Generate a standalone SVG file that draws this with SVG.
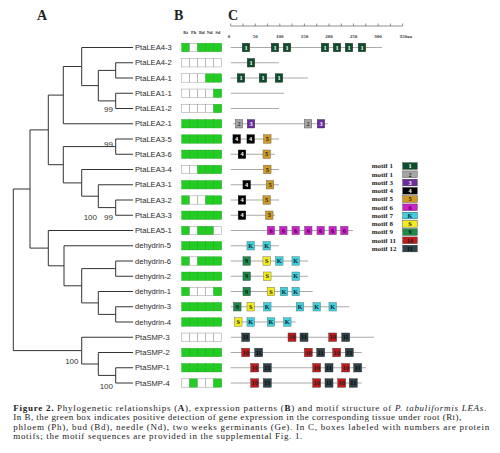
<svg xmlns="http://www.w3.org/2000/svg" xmlns:xlink="http://www.w3.org/1999/xlink" width="500" height="453" viewBox="0 0 500 453">
<style>
.lbl{font-family:"Liberation Sans",Arial,sans-serif;font-size:7.6px;fill:#2a2a2a}
.bs{font-family:"Liberation Sans",Arial,sans-serif;font-size:8px;fill:#333;text-anchor:end}
.pan{font-family:"Liberation Serif","Times New Roman",serif;font-size:14px;font-weight:bold;fill:#222}
.hd{font-family:"Liberation Serif","Times New Roman",serif;font-size:4.6px;font-weight:bold;fill:#333;text-anchor:middle}
.rl{font-family:"Liberation Serif","Times New Roman",serif;font-size:5px;font-weight:bold;fill:#333;text-anchor:middle}
.bt{font-family:"Liberation Serif","Times New Roman",serif;font-size:6.3px;font-weight:bold;text-anchor:middle}
.lg{font-family:"Liberation Serif","Times New Roman",serif;font-size:7px;font-weight:bold;fill:#222}
.cap{font-family:"Liberation Serif","Times New Roman",serif;font-size:9px;fill:#222}
.tree{fill:none;stroke:#333;stroke-width:1}
.pl{stroke:#aaa;stroke-width:1.2}
.g{fill:#22cc22;stroke:#1a9e1a;stroke-width:0.4}
.w{fill:#fff;stroke:#999;stroke-width:0.5}
</style>
<defs>
<rect id="G" class="g" width="8" height="8.4"/>
<rect id="W" class="w" width="8" height="8.4"/>
<g id="m1"><rect x="-3.75" y="-4.25" width="7.5" height="8.5" fill="#0e4d2c" stroke="#222" stroke-width="0.4"/><text class="bt" y="2.2" fill="#fff">1</text></g>
<g id="m2"><rect x="-3.75" y="-4.25" width="7.5" height="8.5" fill="#a6a6a6" stroke="#444" stroke-width="0.4"/><text class="bt" y="2.2" fill="#333">2</text></g>
<g id="m3"><rect x="-3.75" y="-4.25" width="7.5" height="8.5" fill="#6b2c9c" stroke="#333" stroke-width="0.4"/><text class="bt" y="2.2" fill="#fff">3</text></g>
<g id="m4"><rect x="-3.75" y="-4.25" width="7.5" height="8.5" fill="#000" stroke="#000" stroke-width="0.4"/><text class="bt" y="2.2" fill="#fff">4</text></g>
<g id="m5"><rect x="-3.75" y="-4.25" width="7.5" height="8.5" fill="#d09a22" stroke="#555" stroke-width="0.4"/><text class="bt" y="2.2" fill="#222">5</text></g>
<g id="m6"><rect x="-3.75" y="-4.25" width="7.5" height="8.5" fill="#cc22cc" stroke="#555" stroke-width="0.4"/><text class="bt" y="2.2" fill="#4a004a">6</text></g>
<g id="mK"><rect x="-3.75" y="-4.25" width="7.5" height="8.5" fill="#3fd0dc" stroke="#466" stroke-width="0.4"/><text class="bt" y="2.2" fill="#123">K</text></g>
<g id="mS"><rect x="-3.75" y="-4.25" width="7.5" height="8.5" fill="#f2ee1c" stroke="#555" stroke-width="0.4"/><text class="bt" y="2.2" fill="#222">S</text></g>
<g id="m9"><rect x="-3.75" y="-4.25" width="7.5" height="8.5" fill="#1e8a4a" stroke="#333" stroke-width="0.4"/><text class="bt" y="2.2" fill="#111">9</text></g>
<g id="m10"><rect x="-4" y="-4.25" width="8" height="8.5" fill="#c41a1a" stroke="#333" stroke-width="0.4"/><text class="bt" y="2.2" fill="#222">10</text></g>
<g id="m11"><rect x="-4" y="-4.25" width="8" height="8.5" fill="#2e4248" stroke="#222" stroke-width="0.4"/><text class="bt" y="2.2" fill="#0a0a0a">11</text></g>
</defs>
<rect width="500" height="453" fill="#fff"/>

<text class="pan" x="37" y="20">A</text>
<text class="pan" x="174" y="20">B</text>
<text class="pan" x="228" y="20">C</text>

<g id="expr-header">
<text class="hd" x="185.7" y="33.5">Rt</text>
<text class="hd" x="193.7" y="33.5">Ph</text>
<text class="hd" x="201.7" y="33.5">Bd</text>
<text class="hd" x="209.7" y="33.5">Nd</text>
<text class="hd" x="217.7" y="33.5">Sd</text>
</g>

<g id="ruler">
<path d="M230.7 26H402.7M230.7 23.5V26M243 23.5V26M255.3 23.5V26M267.6 23.5V26M279.8 23.5V26M292.1 23.5V26M304.4 23.5V26M316.7 23.5V26M329 23.5V26M341.3 23.5V26M353.5 23.5V26M365.8 23.5V26M378.1 23.5V26M390.4 23.5V26M402.7 23.5V26" stroke="#444" stroke-width="0.6" fill="none"/>
<text class="rl" x="229" y="38">0</text>
<text class="rl" x="255.3" y="38">50</text>
<text class="rl" x="279.8" y="38">100</text>
<text class="rl" x="304.4" y="38">150</text>
<text class="rl" x="329" y="38">200</text>
<text class="rl" x="353.5" y="38">250</text>
<text class="rl" x="378.1" y="38">300</text>
<text class="rl" x="399.5" y="38" style="text-anchor:start">350aa</text>
</g>

<g id="connectors">
<path class="tree" d="
M115.7 62.75V78M115.7 93.25V108.5M115.7 139V154.25M115.7 200V215.25M115.7 261V276.25M115.7 306.75V322M115.7 367.75V383
M98.3 70.4V100.9M98.3 184.75V207.6M98.3 291.5V314.4M98.3 352.5V375.4
M81.7 47.5V85.6M81.7 169.5V196.2M81.7 268.6V302.9M81.7 337.25V364
M63.3 66.5V123.75M63.3 146.6V182.9M64 245.75V285.8
M48.3 95.1V164.7M48.3 230.5V265.8M30 129.9V248.1M13.3 189V350.6
M98.3 70.4H115.7M98.3 100.9H115.7M81.7 85.6H98.3M63.3 66.5H81.7M48.3 95.1H63.3
M63.3 146.6H115.7M98.3 207.6H115.7M81.7 196.2H98.3M63.3 182.9H81.7M48.3 164.7H63.3M30 129.9H48.3
M81.7 268.6H115.7M98.3 314.4H115.7M81.7 302.9H98.3M64 285.8H81.7M48.3 265.8H64M30 248.1H48.3M13.3 189H30
M98.3 375.4H115.7M81.7 364H98.3M13.3 350.6H81.7
M81.7 47.5H133M115.7 62.75H133M115.7 78H133M115.7 93.25H133M115.7 108.5H133M63.3 123.75H133
M115.7 139H133M115.7 154.25H133M81.7 169.5H133M98.3 184.75H133M115.7 200H133M115.7 215.25H133
M48.3 230.5H133M64 245.75H133M115.7 261H133M115.7 276.25H133M98.3 291.5H133M115.7 306.75H133M115.7 322H133
M81.7 337.25H133M98.3 352.5H133M115.7 367.75H133M115.7 383H133"/>
<text class="bs" x="113" y="112">99</text>
<text class="bs" x="113" y="147">99</text>
<text class="bs" x="97" y="220">100</text>
<text class="bs" x="113" y="220">99</text>
<text class="bs" x="78.5" y="363.5">100</text>
<text class="bs" x="113" y="389">100</text>
</g>

<g id="leaf-PtaLEA4-3">
<text class="lbl" x="135" y="50.1">PtaLEA4-3</text>
<use href="#G" x="181.7" y="43.3"/><use href="#W" x="189.7" y="43.3"/><use href="#G" x="197.7" y="43.3"/><use href="#G" x="205.7" y="43.3"/><use href="#G" x="213.7" y="43.3"/>
<line class="pl" x1="230.7" y1="47.5" x2="382" y2="47.5"/>
<use href="#m1" x="246" y="47.5"/><use href="#m1" x="275" y="47.5"/><use href="#m1" x="287" y="47.5"/><use href="#m1" x="325" y="47.5"/><use href="#m1" x="337" y="47.5"/><use href="#m1" x="349" y="47.5"/><use href="#m1" x="362" y="47.5"/>
</g>
<g id="leaf-PtaLEA4-2">
<text class="lbl" x="135" y="65.35">PtaLEA4-2</text>
<use href="#W" x="181.7" y="58.55"/><use href="#W" x="189.7" y="58.55"/><use href="#W" x="197.7" y="58.55"/><use href="#W" x="205.7" y="58.55"/><use href="#W" x="213.7" y="58.55"/>
<line class="pl" x1="230.7" y1="62.75" x2="279" y2="62.75"/>
<use href="#m1" x="251" y="62.75"/>
</g>
<g id="leaf-PtaLEA4-1">
<text class="lbl" x="135" y="80.6">PtaLEA4-1</text>
<use href="#W" x="181.7" y="73.8"/><use href="#W" x="189.7" y="73.8"/><use href="#W" x="197.7" y="73.8"/><use href="#G" x="205.7" y="73.8"/><use href="#G" x="213.7" y="73.8"/>
<line class="pl" x1="230.7" y1="78" x2="308" y2="78"/>
<use href="#m1" x="241" y="78"/><use href="#m1" x="263" y="78"/><use href="#m1" x="279" y="78"/>
</g>
<g id="leaf-PtaLEA1-1">
<text class="lbl" x="135" y="95.85">PtaLEA1-1</text>
<use href="#W" x="181.7" y="89.05"/><use href="#W" x="189.7" y="89.05"/><use href="#W" x="197.7" y="89.05"/><use href="#W" x="205.7" y="89.05"/><use href="#G" x="213.7" y="89.05"/>
<line class="pl" x1="230.7" y1="93.25" x2="284" y2="93.25"/>
</g>
<g id="leaf-PtaLEA1-2">
<text class="lbl" x="135" y="111.1">PtaLEA1-2</text>
<use href="#W" x="181.7" y="104.3"/><use href="#W" x="189.7" y="104.3"/><use href="#W" x="197.7" y="104.3"/><use href="#W" x="205.7" y="104.3"/><use href="#G" x="213.7" y="104.3"/>
<line class="pl" x1="230.7" y1="108.5" x2="279" y2="108.5"/>
</g>
<g id="leaf-PtaLEA2-1">
<text class="lbl" x="135" y="126.35">PtaLEA2-1</text>
<use href="#G" x="181.7" y="119.55"/><use href="#G" x="189.7" y="119.55"/><use href="#G" x="197.7" y="119.55"/><use href="#G" x="205.7" y="119.55"/><use href="#G" x="213.7" y="119.55"/>
<line class="pl" x1="233" y1="123.75" x2="328" y2="123.75"/>
<use href="#m2" x="239" y="123.75"/><use href="#m3" x="251" y="123.75"/><use href="#m2" x="308" y="123.75"/><use href="#m3" x="321" y="123.75"/>
</g>
<g id="leaf-PtaLEA3-5">
<text class="lbl" x="135" y="141.6">PtaLEA3-5</text>
<use href="#G" x="181.7" y="134.8"/><use href="#G" x="189.7" y="134.8"/><use href="#G" x="197.7" y="134.8"/><use href="#G" x="205.7" y="134.8"/><use href="#G" x="213.7" y="134.8"/>
<line class="pl" x1="232" y1="139" x2="279" y2="139"/>
<use href="#m4" x="236.7" y="139"/><use href="#m4" x="250.7" y="139"/><use href="#m5" x="267.3" y="139"/>
</g>
<g id="leaf-PtaLEA3-6">
<text class="lbl" x="135" y="156.85">PtaLEA3-6</text>
<use href="#G" x="181.7" y="150.05"/><use href="#G" x="189.7" y="150.05"/><use href="#G" x="197.7" y="150.05"/><use href="#G" x="205.7" y="150.05"/><use href="#G" x="213.7" y="150.05"/>
<line class="pl" x1="230.7" y1="154.25" x2="275" y2="154.25"/>
<use href="#m4" x="242" y="154.25"/><use href="#m5" x="266.7" y="154.25"/>
</g>
<g id="leaf-PtaLEA3-4">
<text class="lbl" x="135" y="172.1">PtaLEA3-4</text>
<use href="#W" x="181.7" y="165.3"/><use href="#W" x="189.7" y="165.3"/><use href="#G" x="197.7" y="165.3"/><use href="#G" x="205.7" y="165.3"/><use href="#G" x="213.7" y="165.3"/>
<line class="pl" x1="230.7" y1="169.5" x2="279" y2="169.5"/>
<use href="#m5" x="267.3" y="169.5"/>
</g>
<g id="leaf-PtaLEA3-1">
<text class="lbl" x="135" y="187.35">PtaLEA3-1</text>
<use href="#G" x="181.7" y="180.55"/><use href="#G" x="189.7" y="180.55"/><use href="#G" x="197.7" y="180.55"/><use href="#G" x="205.7" y="180.55"/><use href="#G" x="213.7" y="180.55"/>
<line class="pl" x1="230.7" y1="184.75" x2="279" y2="184.75"/>
<use href="#m4" x="246.7" y="184.75"/><use href="#m5" x="270" y="184.75"/>
</g>
<g id="leaf-PtaLEA3-2">
<text class="lbl" x="135" y="202.6">PtaLEA3-2</text>
<use href="#G" x="181.7" y="195.8"/><use href="#W" x="189.7" y="195.8"/><use href="#W" x="197.7" y="195.8"/><use href="#G" x="205.7" y="195.8"/><use href="#G" x="213.7" y="195.8"/>
<line class="pl" x1="230.7" y1="200" x2="279" y2="200"/>
<use href="#m4" x="242" y="200"/><use href="#m5" x="266.7" y="200"/>
</g>
<g id="leaf-PtaLEA3-3">
<text class="lbl" x="135" y="217.85">PtaLEA3-3</text>
<use href="#G" x="181.7" y="211.05"/><use href="#G" x="189.7" y="211.05"/><use href="#G" x="197.7" y="211.05"/><use href="#G" x="205.7" y="211.05"/><use href="#G" x="213.7" y="211.05"/>
<line class="pl" x1="230.7" y1="215.25" x2="275" y2="215.25"/>
<use href="#m4" x="242" y="215.25"/><use href="#m5" x="269.3" y="215.25"/>
</g>
<g id="leaf-PtaLEA5-1">
<text class="lbl" x="135" y="233.1">PtaLEA5-1</text>
<use href="#G" x="181.7" y="226.3"/><use href="#W" x="189.7" y="226.3"/><use href="#G" x="197.7" y="226.3"/><use href="#G" x="205.7" y="226.3"/><use href="#W" x="213.7" y="226.3"/>
<line class="pl" x1="230.7" y1="230.5" x2="353" y2="230.5"/>
<use href="#m6" x="271" y="230.5"/><use href="#m6" x="283.3" y="230.5"/><use href="#m6" x="295.7" y="230.5"/><use href="#m6" x="308.3" y="230.5"/><use href="#m6" x="320.7" y="230.5"/><use href="#m6" x="332.7" y="230.5"/><use href="#m6" x="344.3" y="230.5"/>
</g>
<g id="leaf-dehydrin-5">
<text class="lbl" x="135" y="248.35">dehydrin-5</text>
<use href="#G" x="181.7" y="241.55"/><use href="#G" x="189.7" y="241.55"/><use href="#G" x="197.7" y="241.55"/><use href="#G" x="205.7" y="241.55"/><use href="#G" x="213.7" y="241.55"/>
<line class="pl" x1="230.7" y1="245.75" x2="279" y2="245.75"/>
<use href="#mK" x="250.7" y="245.75"/><use href="#mK" x="266.7" y="245.75"/>
</g>
<g id="leaf-dehydrin-6">
<text class="lbl" x="135" y="263.6">dehydrin-6</text>
<use href="#G" x="181.7" y="256.8"/><use href="#W" x="189.7" y="256.8"/><use href="#G" x="197.7" y="256.8"/><use href="#G" x="205.7" y="256.8"/><use href="#G" x="213.7" y="256.8"/>
<line class="pl" x1="230.7" y1="261" x2="308" y2="261"/>
<use href="#m9" x="246.7" y="261"/><use href="#mS" x="266.7" y="261"/><use href="#mK" x="279.3" y="261"/><use href="#mK" x="295.7" y="261"/>
</g>
<g id="leaf-dehydrin-2">
<text class="lbl" x="135" y="278.85">dehydrin-2</text>
<use href="#G" x="181.7" y="272.05"/><use href="#G" x="189.7" y="272.05"/><use href="#G" x="197.7" y="272.05"/><use href="#G" x="205.7" y="272.05"/><use href="#G" x="213.7" y="272.05"/>
<line class="pl" x1="230.7" y1="276.25" x2="308" y2="276.25"/>
<use href="#m9" x="246.7" y="276.25"/><use href="#mS" x="267.3" y="276.25"/><use href="#mK" x="295.7" y="276.25"/>
</g>
<g id="leaf-dehydrin-1">
<text class="lbl" x="135" y="294.1">dehydrin-1</text>
<use href="#G" x="181.7" y="287.3"/><use href="#W" x="189.7" y="287.3"/><use href="#W" x="197.7" y="287.3"/><use href="#W" x="205.7" y="287.3"/><use href="#G" x="213.7" y="287.3"/>
<line class="pl" x1="230.7" y1="291.5" x2="312.7" y2="291.5"/>
<use href="#m9" x="246.7" y="291.5"/><use href="#mS" x="271" y="291.5"/><use href="#mK" x="284" y="291.5"/><use href="#mK" x="295.7" y="291.5"/>
</g>
<g id="leaf-dehydrin-3">
<text class="lbl" x="135" y="309.35">dehydrin-3</text>
<use href="#G" x="181.7" y="302.55"/><use href="#G" x="189.7" y="302.55"/><use href="#G" x="197.7" y="302.55"/><use href="#G" x="205.7" y="302.55"/><use href="#G" x="213.7" y="302.55"/>
<line class="pl" x1="230.7" y1="306.75" x2="349.3" y2="306.75"/>
<use href="#m9" x="237.3" y="306.75"/><use href="#mS" x="250.7" y="306.75"/><use href="#mK" x="267.3" y="306.75"/><use href="#mK" x="300" y="306.75"/><use href="#mK" x="316.7" y="306.75"/><use href="#mK" x="332.7" y="306.75"/>
</g>
<g id="leaf-dehydrin-4">
<text class="lbl" x="135" y="324.6">dehydrin-4</text>
<use href="#G" x="181.7" y="317.8"/><use href="#G" x="189.7" y="317.8"/><use href="#G" x="197.7" y="317.8"/><use href="#G" x="205.7" y="317.8"/><use href="#G" x="213.7" y="317.8"/>
<line class="pl" x1="234" y1="322" x2="295.7" y2="322"/>
<use href="#mS" x="238.3" y="322"/><use href="#mK" x="250.7" y="322"/><use href="#mK" x="271" y="322"/><use href="#mK" x="287.3" y="322"/>
</g>
<g id="leaf-PtaSMP-3">
<text class="lbl" x="135" y="339.85">PtaSMP-3</text>
<use href="#W" x="181.7" y="333.05"/><use href="#W" x="189.7" y="333.05"/><use href="#W" x="197.7" y="333.05"/><use href="#W" x="205.7" y="333.05"/><use href="#W" x="213.7" y="333.05"/>
<line class="pl" x1="230.7" y1="337.25" x2="374" y2="337.25"/>
<use href="#m11" x="245.7" y="337.25"/><use href="#m10" x="292" y="337.25"/><use href="#m11" x="304" y="337.25"/><use href="#m10" x="332.7" y="337.25"/><use href="#m11" x="345.7" y="337.25"/>
</g>
<g id="leaf-PtaSMP-2">
<text class="lbl" x="135" y="355.1">PtaSMP-2</text>
<use href="#G" x="181.7" y="348.3"/><use href="#G" x="189.7" y="348.3"/><use href="#G" x="197.7" y="348.3"/><use href="#G" x="205.7" y="348.3"/><use href="#G" x="213.7" y="348.3"/>
<line class="pl" x1="230.7" y1="352.5" x2="361.7" y2="352.5"/>
<use href="#m10" x="245.7" y="352.5"/><use href="#m11" x="258.7" y="352.5"/><use href="#m10" x="308.3" y="352.5"/><use href="#m11" x="320.7" y="352.5"/><use href="#m10" x="336.7" y="352.5"/><use href="#m11" x="349.3" y="352.5"/>
</g>
<g id="leaf-PtaSMP-1">
<text class="lbl" x="135" y="370.35">PtaSMP-1</text>
<use href="#G" x="181.7" y="363.55"/><use href="#G" x="189.7" y="363.55"/><use href="#G" x="197.7" y="363.55"/><use href="#G" x="205.7" y="363.55"/><use href="#G" x="213.7" y="363.55"/>
<line class="pl" x1="230.7" y1="367.75" x2="366" y2="367.75"/>
<use href="#m10" x="254.7" y="367.75"/><use href="#m11" x="267.3" y="367.75"/><use href="#m10" x="316.7" y="367.75"/><use href="#m11" x="329" y="367.75"/><use href="#m10" x="345.7" y="367.75"/><use href="#m11" x="357.7" y="367.75"/>
</g>
<g id="leaf-PtaSMP-4">
<text class="lbl" x="135" y="385.6">PtaSMP-4</text>
<use href="#W" x="181.7" y="378.8"/><use href="#G" x="189.7" y="378.8"/><use href="#W" x="197.7" y="378.8"/><use href="#W" x="205.7" y="378.8"/><use href="#G" x="213.7" y="378.8"/>
<line class="pl" x1="230.7" y1="383" x2="361.7" y2="383"/>
<use href="#m10" x="254.7" y="383"/><use href="#m11" x="267.3" y="383"/><use href="#m10" x="316.7" y="383"/><use href="#m11" x="329" y="383"/><use href="#m10" x="341.7" y="383"/><use href="#m11" x="353.3" y="383"/>
</g>

<g id="legend">
<text class="lg" x="371.7" y="168.4">motif 1</text>
<text class="lg" x="371.7" y="176.7">motif 1</text>
<text class="lg" x="371.7" y="184.9">motif 3</text>
<text class="lg" x="371.7" y="193.2">motif 4</text>
<text class="lg" x="371.7" y="201.4">motif 5</text>
<text class="lg" x="371.7" y="209.7">motif 6</text>
<text class="lg" x="371.7" y="217.9">motif 7</text>
<text class="lg" x="371.7" y="226.2">motif 8</text>
<text class="lg" x="371.7" y="234.4">motif 9</text>
<text class="lg" x="371.7" y="242.7">motif 11</text>
<text class="lg" x="371.7" y="250.9">motif 12</text>
<g stroke="#333" stroke-width="0.4">
<rect x="402.7" y="162.7" width="14.6" height="6.7" fill="#0e4d2c"/>
<rect x="402.7" y="170.95" width="14.6" height="6.7" fill="#a6a6a6"/>
<rect x="402.7" y="179.2" width="14.6" height="6.7" fill="#6b2c9c"/>
<rect x="402.7" y="187.45" width="14.6" height="6.7" fill="#000"/>
<rect x="402.7" y="195.7" width="14.6" height="6.7" fill="#d09a22"/>
<rect x="402.7" y="203.95" width="14.6" height="6.7" fill="#cc22cc"/>
<rect x="402.7" y="212.2" width="14.6" height="6.7" fill="#3fd0dc"/>
<rect x="402.7" y="220.45" width="14.6" height="6.7" fill="#f2ee1c"/>
<rect x="402.7" y="228.7" width="14.6" height="6.7" fill="#1e8a4a"/>
<rect x="402.7" y="236.95" width="14.6" height="6.7" fill="#c41a1a"/>
<rect x="402.7" y="245.2" width="14.6" height="6.7" fill="#2e4248"/>
</g>
<text class="bt" x="410" y="168.3" fill="#fff">1</text>
<text class="bt" x="410" y="176.6" fill="#333">2</text>
<text class="bt" x="410" y="184.8" fill="#fff">3</text>
<text class="bt" x="410" y="193.1" fill="#fff">4</text>
<text class="bt" x="410" y="201.3" fill="#222">5</text>
<text class="bt" x="410" y="209.6" fill="#4a004a">6</text>
<text class="bt" x="410" y="217.8" fill="#123">K</text>
<text class="bt" x="410" y="226.1" fill="#222">S</text>
<text class="bt" x="410" y="234.3" fill="#111">9</text>
<text class="bt" x="410" y="242.6" fill="#222">10</text>
<text class="bt" x="410" y="250.8" fill="#0a0a0a">11</text>
</g>

<g id="caption">
<text class="cap" x="13.3" y="410.5" textLength="473" lengthAdjust="spacing"><tspan font-weight="bold">Figure 2.</tspan>  Phylogenetic relationships (<tspan font-weight="bold">A</tspan>), expression patterns (<tspan font-weight="bold">B</tspan>) and motif structure of <tspan font-style="italic">P. tabuliformis LEAs</tspan>.</text>
<text class="cap" x="13.3" y="420" textLength="448" lengthAdjust="spacing">In B, the green box indicates positive detection of gene expression in the corresponding tissue under root (Rt),</text>
<text class="cap" x="13.3" y="429.5" textLength="476" lengthAdjust="spacing">phloem (Ph), bud (Bd), needle (Nd), two weeks germinants (Ge). In C, boxes labeled with numbers are protein</text>
<text class="cap" x="13.3" y="439" textLength="289" lengthAdjust="spacing">motifs; the motif sequences are provided in the supplemental Fig. 1.</text>
</g>
</svg>
